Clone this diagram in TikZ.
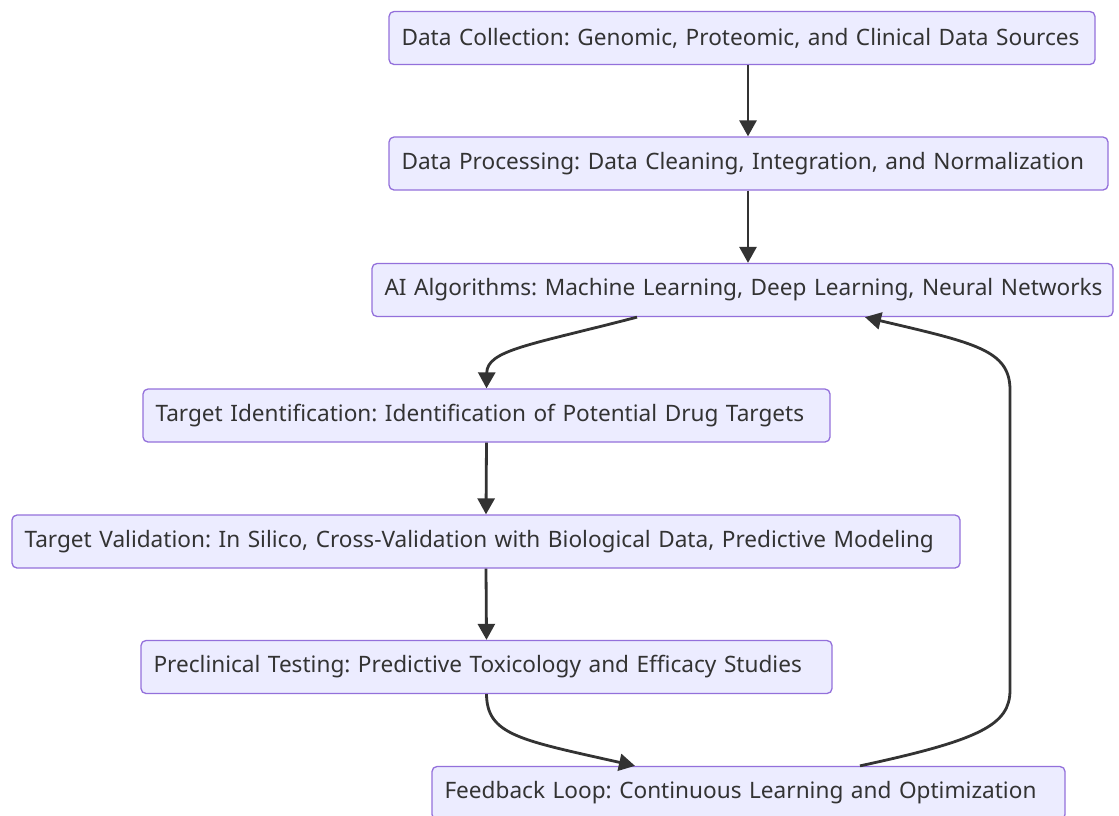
\documentclass[tikz,border=0pt]{standalone}
\usepackage{fontspec}
\setmainfont{Noto Sans}
\usepackage{tikz}
\usetikzlibrary{arrows.meta}
\definecolor{boxfill}{HTML}{ECECFF}
\definecolor{boxline}{HTML}{9370DB}
\definecolor{ink}{HTML}{333333}
\frenchspacing

\begin{document}
\begin{tikzpicture}[x=1pt, y=-1pt]
	\tikzset{stage/.style={draw=boxline, fill=boxfill, line width=1.3pt, rounded corners=5pt,
		minimum height=53pt, inner xsep=12.5pt, inner ysep=0pt, align=left, text=ink,
		font=\fontsize{22.6}{27}\selectfont}}
	\tikzset{flow/.style={draw=ink, line width=2.8pt, -{Triangle[length=16pt, width=17pt]}}}
	\useasboundingbox (0,0) rectangle (1119,815);
		\node[stage, text width=681pt] (dc) at (742, 38) {\mbox{Data Collection: Genomic, Proteomic, and Clinical Data Sources}};
		\node[stage, text width=694pt] (dp) at (748.5, 163.5) {\mbox{Data Processing: Data Cleaning, Integration, and Normalization}};
		\node[stage, text width=716pt] (ai) at (742.5, 290) {\mbox{AI Algorithms: Machine Learning, Deep Learning, Neural Networks}};
		
		\node[stage, text width=662pt] (ti) at (486.5, 415.5) {\mbox{Target Identification: Identification of Potential Drug Targets}};
		\node[stage, text width=923pt] (tv) at (486, 541.5) {\mbox{Target Validation: In Silico, Cross-Validation with Biological Data, Predictive Modeling}};
		\node[stage, text width=666pt] (pc) at (486.5, 667) {\mbox{Preclinical Testing: Predictive Toxicology and Efficacy Studies}};
		
		\node[stage, text width=608pt] (fb) at (748.5, 793) {\mbox{Feedback Loop: Continuous Learning and Optimization}};
		
		%========================================================================
		% Arrows
		\draw[flow] ([xshift=6pt]dc.south) -- ([xshift=-0.5pt]dp.north);
		\draw[flow] ([xshift=-0.5pt]dp.south) -- ([xshift=5.5pt]ai.north);
		
		\draw[flow] ([xshift=-105.5pt]ai.south) .. controls (530,345) and (487,350) .. (ti.north);
		\draw[flow] (ti.south) -- (tv.north);
		\draw[flow] (tv.south) -- (pc.north);
		
		\draw[flow] (pc.south) .. controls (487,735) and (520,740) .. ([xshift=-113.5pt]fb.north);
		\draw[flow] ([xshift=111.5pt]fb.north) .. controls (980,740) and (1010,725) .. (1010,690)
			-- (1010,390) .. controls (1010,350) and (975,343) .. ([xshift=122.5pt]ai.south);
	\end{tikzpicture}
\end{document}
